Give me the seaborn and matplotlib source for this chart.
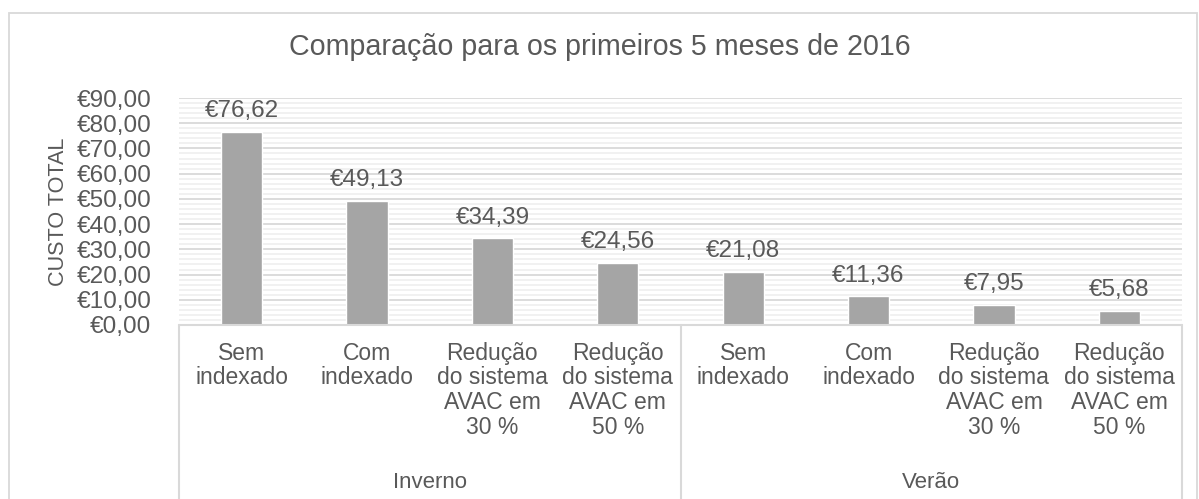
import matplotlib
matplotlib.use("Agg")
import matplotlib.pyplot as plt
import seaborn as sns
import pandas as pd
from matplotlib.ticker import MultipleLocator, FuncFormatter
from matplotlib.lines import Line2D
from matplotlib.patches import Rectangle
import matplotlib.transforms as mtransforms

# ---- data ----
groups = ["Inverno", "Inverno", "Inverno", "Inverno", "Verão", "Verão", "Verão", "Verão"]
categories = ["Sem\nindexado", "Com\nindexado",
              "Redução\ndo sistema\nAVAC em\n30 %", "Redução\ndo sistema\nAVAC em\n50 %",
              "Sem\nindexado", "Com\nindexado",
              "Redução\ndo sistema\nAVAC em\n30 %", "Redução\ndo sistema\nAVAC em\n50 %"]
values = [76.62, 49.13, 34.39, 24.56, 21.08, 11.36, 7.95, 5.68]
group_names = ["Inverno", "Verão"]
title = "Comparação para os primeiros 5 meses de 2016"
ylabel = "CUSTO TOTAL"

sns.set_theme(style="white")
plt.rcParams['font.family'] = ['Liberation Sans', 'DejaVu Sans']

TXT = "#595959"
BAR = "#a5a5a5"
GRID_MAJ = "#d9d9d9"
GRID_MIN = "#f0f0f0"

W, H = 1199, 499
fig = plt.figure(figsize=(W / 100, H / 100), dpi=100)
left, right, top, bottom = 179, 1182, 98, 325
ax = fig.add_axes([left / W, 1 - bottom / H, (right - left) / W, (bottom - top) / H])

keys = [f"{g}|{i}" for i, g in enumerate(groups)]
df = pd.DataFrame({"key": keys, "value": values})
sns.barplot(data=df, x="key", y="value", order=keys, color=BAR, width=0.33,
            saturation=1, ax=ax, zorder=3)

ax.set_xlim(-0.5, len(values) - 0.5)
ax.set_ylim(0, 90)
ax.yaxis.set_major_locator(MultipleLocator(10))
ax.yaxis.set_minor_locator(MultipleLocator(2))
ax.grid(which="major", axis="y", color=GRID_MAJ, lw=1.3, zorder=1)
ax.grid(which="minor", axis="y", color=GRID_MIN, lw=1.3, zorder=0)
ax.set_axisbelow(True)
for s in ax.spines.values():
    s.set_visible(False)

fmt = lambda v: "€" + f"{v:.2f}".replace(".", ",")
ax.yaxis.set_major_formatter(FuncFormatter(lambda v, p: fmt(v)))
ax.tick_params(axis="y", which="both", length=0, pad=20, labelsize=17.6, labelcolor=TXT)
ax.set_xticks(range(len(categories)))
ax.set_xticklabels(categories, linespacing=1.1, fontsize=16.5, color=TXT)
ax.tick_params(axis="x", length=0, pad=12)
ax.set_xlabel("")
ax.set_ylabel(ylabel, fontsize=15.6, color=TXT, labelpad=5)

ax.bar_label(ax.containers[0], labels=[fmt(v) for v in values], padding=7,
             fontsize=17.5, color=TXT)

# category axis box lines
trans = mtransforms.blended_transform_factory(ax.transData, ax.transAxes)
ybot = -(H - bottom) / (bottom - top) - 0.1
ax.add_line(Line2D([-0.5, len(values) - 0.5], [0, 0], transform=trans, color=GRID_MAJ,
                   lw=1.5, clip_on=False, zorder=4))
n_per = len(values) // len(group_names)
for k in range(len(group_names) + 1):
    x = -0.5 + k * n_per
    ax.add_line(Line2D([x, x], [0, ybot], transform=trans, color=GRID_MAJ,
                       lw=1.5, clip_on=False))
ygrp = -(483 - bottom) / (bottom - top)
for k, g in enumerate(group_names):
    ax.text(k * n_per + (n_per - 1) / 2, ygrp, g, transform=trans, ha="center", va="center",
            fontsize=16, color=TXT)

fig.text(0.5, 1 - 47 / H, title, ha="center", va="center", fontsize=20.6, color=TXT)

fig.add_artist(Rectangle((9 / W, -0.1), (1197 - 9) / W, 1 - 12.5 / H + 0.1,
                         transform=fig.transFigure, fill=False, edgecolor=GRID_MAJ, lw=1.3))

fig.savefig("out.png", dpi=100, facecolor="white")
